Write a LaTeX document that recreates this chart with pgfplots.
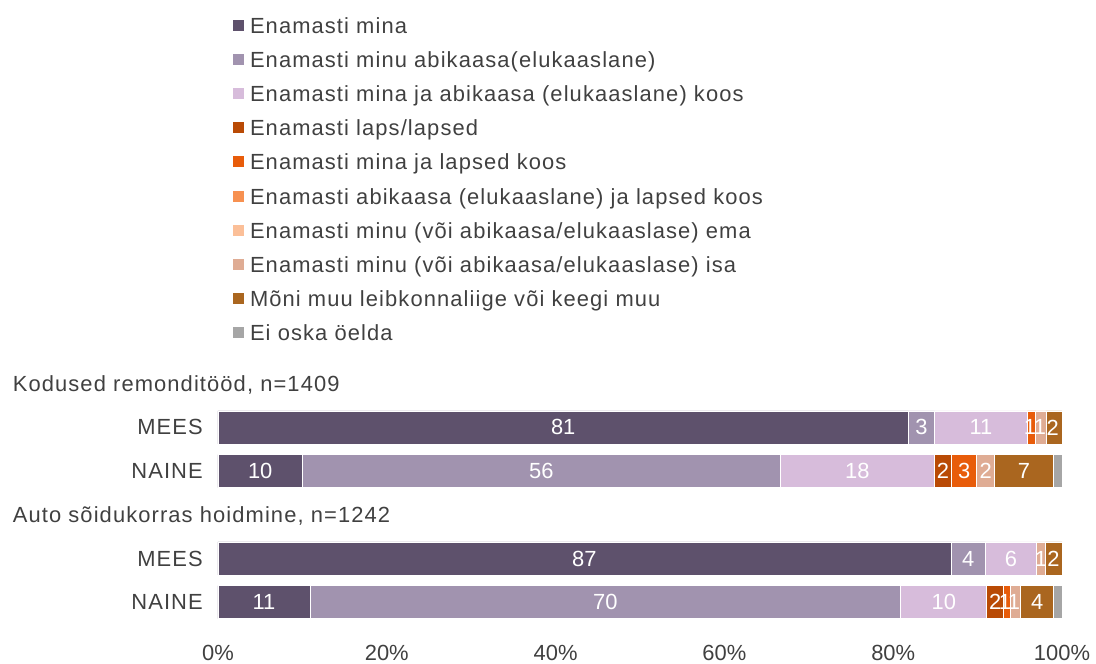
\documentclass[border=0pt]{standalone}
\usepackage{fontspec}
\setmainfont{Liberation Sans}[LetterSpace=5]
\newfontfamily\numfont{Liberation Sans}
\usepackage{pgfplots}
\pgfplotsset{compat=1.18}
\definecolor{c1}{HTML}{5E516C}
\definecolor{c2}{HTML}{A193AF}
\definecolor{c3}{HTML}{D7BCDB}
\definecolor{c4}{HTML}{B94A05}
\definecolor{c5}{HTML}{E85C0A}
\definecolor{c6}{HTML}{F79151}
\definecolor{c7}{HTML}{FBBF98}
\definecolor{c8}{HTML}{DFAC94}
\definecolor{c9}{HTML}{AA661F}
\definecolor{c10}{HTML}{A6A6A6}
\definecolor{txt}{HTML}{404040}
\begin{document}
\fontsize{22}{26}\selectfont
\begin{tikzpicture}
\path[use as bounding box] (-218bp,-40bp) rectangle (878bp,624bp);
\begin{axis}[
 at={(0,0)}, anchor=south west,
 scale only axis, width=844bp, height=262.1bp,
 xbar stacked, bar width=33bp,
 xmin=0, xmax=100, ymin=-0.5, ymax=5.5, y dir=reverse,
 axis line style={draw=none}, tick style={draw=none}, major tick length=0pt,
 xtick={0,20,40,60,80,100}, xticklabels={0\%,20\%,40\%,60\%,80\%,100\%},
 ytick={1,2,4,5}, yticklabels={MEES,NAINE,MEES,NAINE},
 xticklabel style={inner sep=0pt, anchor=north, yshift=-21bp, text=txt, font=\numfont},
 yticklabel style={inner sep=0pt, anchor=east, xshift=-15bp, text=txt},
 every axis plot/.append style={draw=white, line width=0.8bp},
 legend cell align=left,
 legend style={at={(0.0178,2.314)}, anchor=north west, draw=none, fill=none,
   inner sep=0pt, outer sep=0pt, row sep=13.1bp, column sep=6bp,
   nodes={inner sep=0pt, text height=16bp, text depth=5bp, text=txt}},
 legend image code/.code={\fill[#1,draw=none] (0bp,-3bp) rectangle (11bp,8bp);},
 clip=false,
]
\addplot[fill=c1] coordinates {(81.8,1) (10,2) (86.85,4) (10.9,5)};
\addlegendentry{Enamasti mina}
\addplot[fill=c2] coordinates {(3.1,1) (56.6,2) (4.1,4) (70,5)};
\addlegendentry{Enamasti minu abikaasa(elukaaslane)}
\addplot[fill=c3] coordinates {(11.0,1) (18.3,2) (6.0,4) (10.2,5)};
\addlegendentry{Enamasti mina ja abikaasa (elukaaslane) koos}
\addplot[fill=c4] coordinates {(0,1) (2.0,2) (0,4) (2.0,5)};
\addlegendentry{Enamasti laps/lapsed}
\addplot[fill=c5] coordinates {(1.0,1) (3.0,2) (0,4) (0.8,5)};
\addlegendentry{Enamasti mina ja lapsed koos}
\addplot[fill=c6] coordinates {(0,1) (0,2) (0,4) (0,5)};
\addlegendentry{Enamasti abikaasa (elukaaslane) ja lapsed koos}
\addplot[fill=c7] coordinates {(0,1) (0,2) (0,4) (0,5)};
\addlegendentry{Enamasti minu (või abikaasa/elukaaslase) ema}
\addplot[fill=c8] coordinates {(1.2,1) (2.1,2) (1.1,4) (1.2,5)};
\addlegendentry{Enamasti minu (või abikaasa/elukaaslase) isa}
\addplot[fill=c9] coordinates {(1.9,1) (7.0,2) (1.95,4) (3.9,5)};
\addlegendentry{Mõni muu leibkonnaliige või keegi muu}
\addplot[fill=c10] coordinates {(0,1) (1.0,2) (0,4) (1.0,5)};
\addlegendentry{Ei oska öelda}
\end{axis}
\begin{axis}[
 at={(0,0)}, anchor=south west,
 scale only axis, width=844bp, height=262.1bp,
 xmin=0, xmax=100, ymin=-0.5, ymax=5.5, y dir=reverse,
 hide axis, clip=false,
]
\addplot[draw=none, mark=none, nodes near coords, point meta=explicit symbolic,
  every node near coord/.append style={anchor=center, text=white, inner sep=0pt, font=\numfont}]
 coordinates {
 (40.9,1) [81] (83.35,1) [3] (90.4,1) [11] (96.2,1) [1] (97.4,1) [1] (98.9,1) [2]
 (5,2) [10] (38.3,2) [56] (75.75,2) [18] (85.9,2) [2] (88.4,2) [3] (90.95,2) [2] (95.5,2) [7]
 (43.4,4) [87] (88.9,4) [4] (93.95,4) [6] (97.5,4) [1] (99.0,4) [2]
 (5.45,5) [11] (45.9,5) [70] (86.0,5) [10] (92.1,5) [2] (93.25,5) [1] (94.3,5) [1] (97.05,5) [4]
 };
\node[anchor=base west, text=txt, inner sep=0pt, xshift=-205.3bp, yshift=-7.8bp] at (axis cs:0,0) {Kodused remonditööd, n=1409};
\node[anchor=base west, text=txt, inner sep=0pt, xshift=-205.3bp, yshift=-7.8bp] at (axis cs:0,3) {Auto sõidukorras hoidmine, n=1242};
\end{axis}
\end{tikzpicture}
\end{document}
